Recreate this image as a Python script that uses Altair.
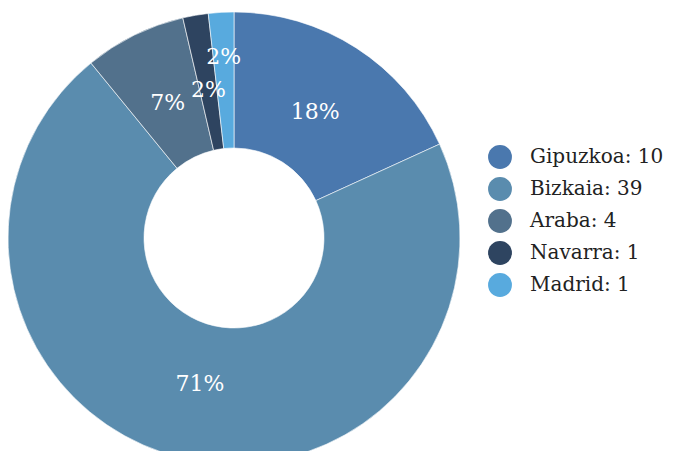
import altair as alt
import pandas as pd

regions = ["Gipuzkoa", "Bizkaia", "Araba", "Navarra", "Madrid"]
counts = [10, 39, 4, 1, 1]
colors = ["#4a78ae", "#5a8cae", "#52718c", "#2e4460", "#58aade"]

df = pd.DataFrame({
    "region": regions,
    "count": counts,
    "order": list(range(len(regions))),
})
df["label"] = [f"{r}: {c}" for r, c in zip(regions, counts)]

labels_sorted = list(df["label"])
FONT = "DejaVu Serif"

base = alt.Chart(df)

arcs = base.mark_arc(innerRadius=90, outerRadius=226, stroke="white", strokeWidth=0.6).encode(
    theta=alt.Theta("count:Q", stack=True),
    order=alt.Order("order:Q"),
    color=alt.Color(
        "label:N",
        sort=labels_sorted,
        scale=alt.Scale(domain=labels_sorted, range=colors),
        legend=alt.Legend(
            title=None,
            orient="none",
            legendX=480,
            legendY=137,
            symbolType="circle",
            symbolSize=570,
            symbolStrokeWidth=0,
            symbolOpacity=1,
            labelFont=FONT,
            labelFontSize=20,
            labelColor="#222222",
            labelOffset=18,
            rowPadding=8,
            labelLimit=300,
        ),
    ),
    x=alt.value(226),
    y=alt.value(230),
)

txt_base = base.transform_joinaggregate(total="sum(count)").transform_window(
    cum="sum(count)", sort=[alt.SortField("order")], frame=[None, 0]
).transform_calculate(
    mid="(datum.cum - datum.count/2) / datum.total",
    pct="format(datum.count / datum.total, '.0%')",
)

def text_layer(flt, r):
    return txt_base.transform_filter(flt).mark_text(
        radius=r, font=FONT, fontSize=22, color="white", baseline="middle", align="center"
    ).encode(
        theta=alt.Theta("mid:Q", scale=alt.Scale(domain=[0, 1], range=[0, 6.283185307])),
        text="pct:N",
        x=alt.value(226),
        y=alt.value(230),
    )

t_main = text_layer(alt.datum.region != "Madrid", 150)
t_mad = text_layer(alt.datum.region == "Madrid", 181)

chart = alt.layer(arcs, t_main, t_mad).resolve_scale(theta="independent").properties(
    width=659, height=443, autosize="none", padding=0
).configure_view(stroke=None)

chart.save("out.html", embed_options={"renderer": "svg", "actions": False})
